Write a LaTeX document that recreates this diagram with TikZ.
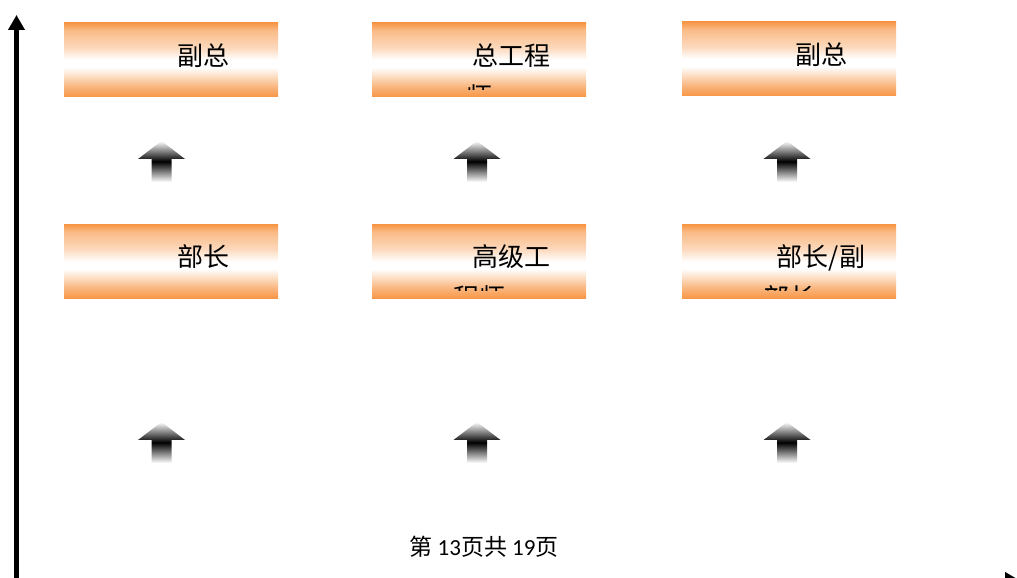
\documentclass[tikz,border=0pt]{standalone}
\usepackage{fontspec}
\setmainfont{Noto Sans CJK SC}
\newfontfamily\numfont{Carlito}
\usetikzlibrary{positioning}
\usetikzlibrary{shapes,arrows.meta}
\definecolor{rankorange}{RGB}{247,150,70}
\pgfdeclareverticalshading{rankfade}{100bp}{color(0bp)=(rankorange); color(25bp)=(rankorange);
  color(32bp)=(rankorange!70!white); color(45bp)=(white); color(50bp)=(white);
  color(58bp)=(rankorange!35!white); color(70bp)=(rankorange!65!white);
  color(75bp)=(rankorange); color(100bp)=(rankorange)}

\tikzset{
  rankbox/.style={rectangle,minimum width=214pt,minimum height=74pt,inner sep=0pt,
    shade,shading=rankfade},
  ranktext/.style={anchor=north,inner sep=0pt,align=center,font=\fontsize{26pt}{41pt}\selectfont},
  rankarrow/.style={top color=white,bottom color=white,middle color=black},
  axis/.style={line width=4.5pt,>={Triangle[width=16pt,length=15pt]},<->},
  pagefoot/.style={anchor=base,inner sep=0pt,font=\fontsize{23pt}{27pt}\selectfont}
}

\begin{document}
\begin{tikzpicture}[x=1pt,y=1pt]
    \useasboundingbox (0,0) rectangle (1017,578);
    %Axes
    \coordinate (ytip) at (16.5,563);
    \coordinate (origin) at (16.5,-2.5);
    \coordinate (xtip) at (1020,-2.5);
    \draw[axis] (ytip) -- (origin) -- (xtip);
    %Ranks
    \foreach \name/\xc/\yc/\txt in {
        vpleft/171/518/{副总},
        chiefeng/479/518/{总工程\\师},
        vpright/789/519/{副总},
        headleft/171/316.5/{部长},
        senioreng/479/316.5/{高级工\\程师},
        headright/789/316.5/{部长/副\\部长}} {
        \node[rankbox] (\name) at (\xc,\yc) {};
        \begin{scope}
            \clip ([yshift=8pt]\name.south west) rectangle (\name.north east);
            \node[ranktext] (\name-label) at ([yshift=-13.5pt]\name.north) {\hspace*{64pt}\strut\txt};
        \end{scope}
    }
    %Promotion arrows
    \foreach \xc in {161.5,477,787} {
        \foreach \dy in {0,-281} {
            \path[rankarrow] (\xc,437+\dy) -- (\xc+23.5,419+\dy) -- (\xc+10,419+\dy)
                -- (\xc+10,396+\dy) -- (\xc-10,396+\dy) -- (\xc-10,419+\dy)
                -- (\xc-23.5,419+\dy) -- cycle;
        }
    }
    \node[pagefoot] (pageno) at (484,22.5) {第 {\numfont 13}页共 {\numfont 19}页};
\end{tikzpicture}
\end{document}
